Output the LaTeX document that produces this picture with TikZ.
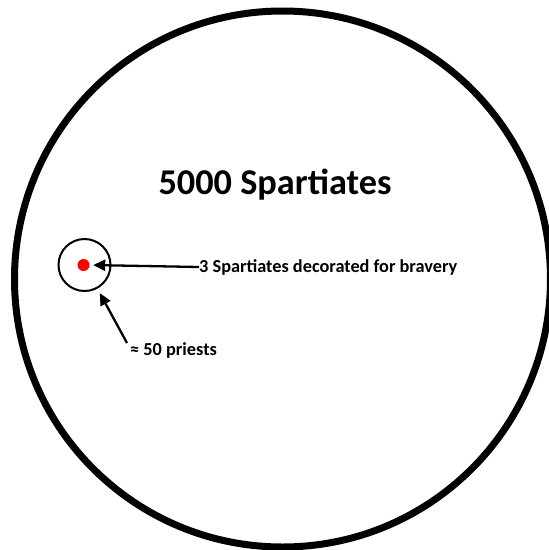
\documentclass[tikz,border=0pt]{standalone}
\usepackage{fontspec}
\setmainfont{Carlito}
\usetikzlibrary{arrows.meta}
\begin{document}
\begin{tikzpicture}[x=1pt,y=-1pt,
  arr/.style={line width=2.3pt,-{Triangle[length=12pt,width=11pt]}},
  lbl/.style={font=\bfseries\fontsize{18.3}{20}\selectfont,inner sep=0pt,anchor=west}]
\useasboundingbox (0,0) rectangle (549,550);
\clip (0,0) rectangle (549,550);
\fill[white] (0,0) rectangle (549,550);
\node[circle,draw,line width=7pt,minimum size=536pt,inner sep=0pt] (big) at (282.5,279) {};
\node[font=\bfseries\fontsize{36.3}{40}\selectfont,inner sep=0pt] (title) at (275,185) {5000 Spartiates};
\node[circle,draw,line width=2pt,minimum size=52pt,inner sep=0pt] (small) at (84.5,265) {};
\node[circle,fill=red,minimum size=12pt,inner sep=0pt] (dot) at (83.5,265) {};
\node[lbl] (lab1) at (199,267) {3 Spartiates decorated for bravery};
\node[lbl] (lab2) at (130,351) {≈ 50 priests};
\coordinate (tail) at (127,343);
\draw[arr,shorten >=3.5pt] (lab1.west) -- (dot.east);
\draw[arr,shorten >=5pt] (tail) -- (small);
\end{tikzpicture}
\end{document}
